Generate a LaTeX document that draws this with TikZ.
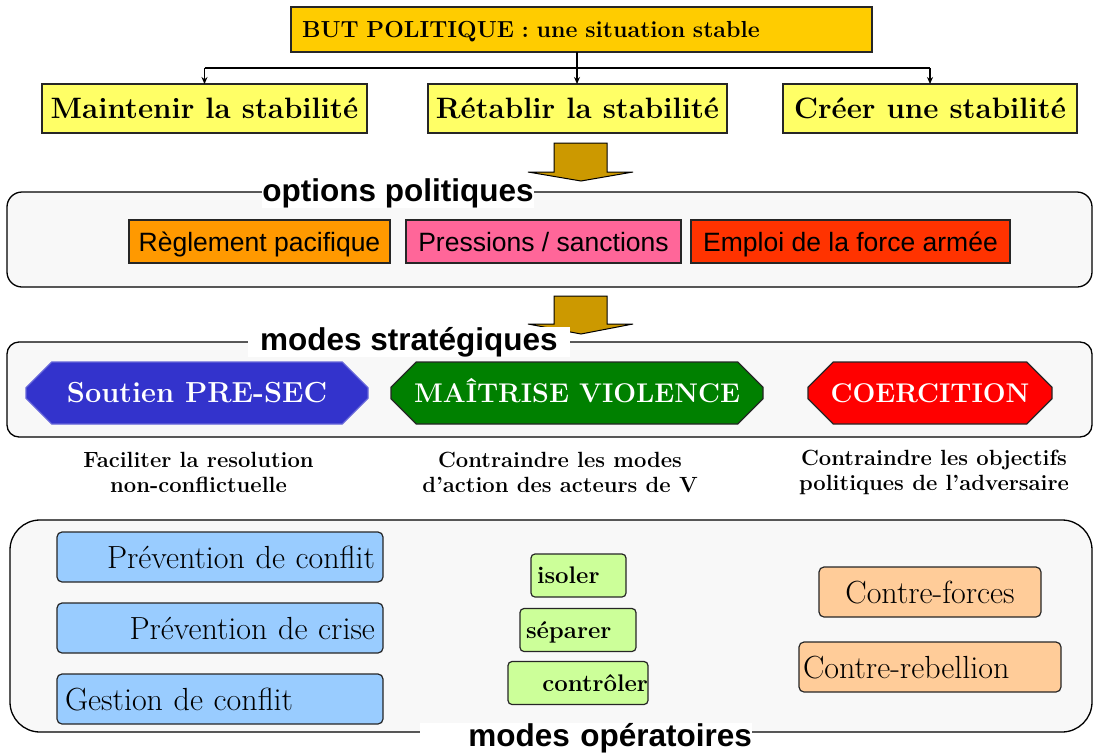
\documentclass[tikz,border=0pt]{standalone}
\usepackage{fontspec}
\setsansfont{Liberation Sans}
\usetikzlibrary{shapes.misc, arrows.meta}

\definecolor{goldbut}{HTML}{FFCC00}
\definecolor{yellowgoal}{HTML}{FFFF66}
\definecolor{arrowgold}{HTML}{CC9900}
\definecolor{panelgray}{HTML}{F8F8F8}
\definecolor{optorange}{HTML}{FF9900}
\definecolor{optpink}{HTML}{FF6699}
\definecolor{optred}{HTML}{FF3300}
\definecolor{modeblue}{HTML}{3333CC}
\definecolor{modegreen}{HTML}{008000}
\definecolor{modered}{HTML}{FF0000}
\definecolor{opblue}{HTML}{99CCFF}
\definecolor{opgreen}{HTML}{CCFF99}
\definecolor{oppeach}{HTML}{FFCC99}

\tikzset{
  box/.style={draw=black!85, line width=1.2pt, inner sep=0pt, outer sep=0pt},
  goal/.style={box, fill=yellowgoal, minimum height=49pt, text height=20pt, text depth=0pt, font=\bfseries\fontsize{29.5}{34}\selectfont},
  option/.style={box, minimum height=43pt, text height=19pt, text depth=0pt, font=\sffamily\fontsize{26.5}{32}\selectfont},
  mode/.style={box, chamfered rectangle, chamfered rectangle xsep=17pt, chamfered rectangle ysep=16pt, minimum height=62pt, text=white, text height=18.5pt, text depth=0pt, font=\bfseries\fontsize{27}{32}\selectfont},
  aim/.style={align=center, inner sep=0pt, font=\bfseries\fontsize{22}{25}\selectfont},
  operation/.style={box, rounded corners=5pt, minimum height=50pt, text height=22pt, text depth=0pt, font=\fontsize{32}{38}\selectfont},
  bluebox/.style={operation, fill=opblue, text width=310pt, inner xsep=8pt},
  action/.style={box, rounded corners=4pt, fill=opgreen, minimum height=43pt, text height=16.5pt, text depth=0pt, font=\bfseries\fontsize{24}{28}\selectfont},
  panel/.style={draw=black, line width=1.3pt, fill=panelgray},
  paneltitle/.style={fill=white, inner sep=0pt, outer sep=0pt, font=\sffamily\bfseries\fontsize{31.5}{36}\selectfont},
  link/.style={line width=1.5pt, -{Stealth[length=7pt, width=6pt]}},
  blockarrow/.style={draw=black, line width=1pt, fill=arrowgold}
}

\begin{document}
\begin{tikzpicture}[x=1pt, y=-1pt]
\useasboundingbox (0,0) rectangle (1093,753);

% but politique
\node[box, fill=goldbut, minimum height=45pt, text width=559pt, inner xsep=11pt, align=left, text height=16pt, text depth=0pt, font=\bfseries\fontsize{23.2}{27}\selectfont] (but) at (581.5,29.5) {BUT POLITIQUE : une situation stable};
\node[goal, minimum width=325pt] (maint) at (204.5,108.5) {Maintenir la stabilité};
\node[goal, minimum width=299pt] (retablir) at (577.5,108.5) {Rétablir la stabilité};
\node[goal, minimum width=294pt] (creer) at (930,108.5) {Créer une stabilité};

\coordinate (split) at (577,68);
\draw[line width=1.5pt] (maint.north |- split) -- (creer.north |- split);
\draw[link] (maint.north |- split) -- (maint.north);
\draw[link] (creer.north |- split) -- (creer.north);
\draw[link] (split |- but.south) -- (split |- retablir.north);

\draw[blockarrow] (554,143) -- (607,143) -- (607,172) -- (633,172) -- (581,181) -- (528,172) -- (554,172) -- cycle;

% options politiques
\draw[panel, rounded corners=15pt] (7,192) rectangle (1092,287);
\node[paneltitle] (opttitle) at (398,193) {options politiques};
\node[option, fill=optorange, minimum width=261pt] (reglement) at (259.5,241.5) {Règlement pacifique};
\node[option, fill=optpink, minimum width=275pt] (pressions) at (543.5,241.5) {Pressions / sanctions};
\node[option, fill=optred, minimum width=319pt] (force) at (850.5,241.5) {Emploi de la force armée};

\draw[blockarrow] (554,296) -- (607,296) -- (607,324) -- (633,324) -- (581,334) -- (528,324) -- (554,324) -- cycle;

% modes strategiques
\draw[panel, rounded corners=12pt] (7,342) rectangle (1092,437);
\node[paneltitle, inner xsep=12pt] (modtitle) at (409,342) {modes stratégiques};
\node[mode, fill=modeblue, draw=modeblue!75!white, minimum width=342pt, font=\bfseries\fontsize{29}{34}\selectfont, text height=19.5pt] (soutien) at (197,393) {Soutien PRE-SEC};
\node[mode, fill=modegreen, minimum width=372pt] (maitrise) at (577,393) {MAÎTRISE VIOLENCE};
\node[mode, fill=modered, minimum width=244pt] (coercition) at (930,393) {COERCITION};

\node[aim] (faciliter) at (198.5,472) {Faciliter la resolution\\non-conflictuelle};
\node[aim] (contrmodes) at (560,472) {Contraindre les modes\\d’action des acteurs de V};
\node[aim] (controbj) at (934,472) {Contraindre les objectifs\\politiques de l’adversaire};

% modes operatoires
\draw[panel, rounded corners=30pt] (10,520) rectangle (1092,732);
\node[paneltitle, text width=332pt, align=right] (optitle) at (586,738) {modes opératoires};

\node[bluebox, align=right] (prevconflit) at (220,557) {Prévention de conflit};
\node[bluebox, align=right] (prevcrise) at (220,628) {Prévention de crise};
\node[bluebox, align=left] (gestion) at (220,699) {Gestion de conflit};

\node[action, text width=83pt, inner xsep=6pt, align=left] (isoler) at (578.5,575.5) {isoler};
\node[action, text width=104pt, inner xsep=6pt, align=left] (separer) at (578,630) {séparer};
\node[action, text width=140pt, inner xsep=0pt, align=right] (controler) at (578,683) {contrôler};

\node[operation, fill=oppeach, minimum width=222pt] (contreforces) at (930,592) {Contre-forces};
\node[operation, fill=oppeach, text width=254pt, inner xsep=4pt, align=left] (contrerebellion) at (930,667) {Contre-rebellion};
\end{tikzpicture}
\end{document}
